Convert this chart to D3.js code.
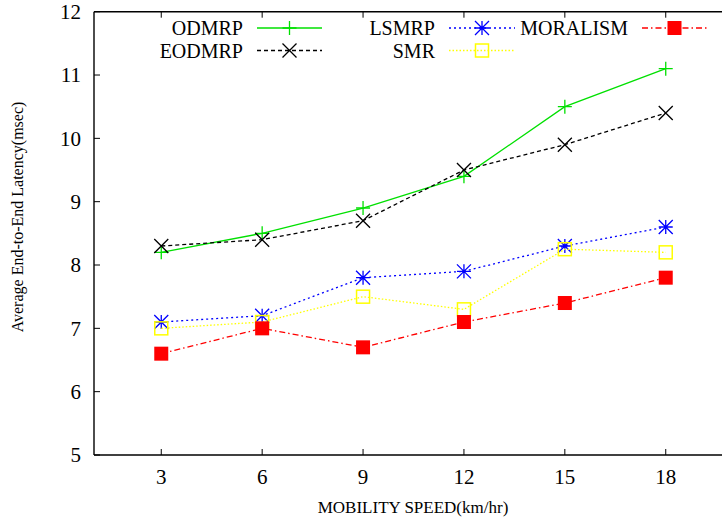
<!DOCTYPE html>
<html>
<head>
<meta charset="utf-8">
<script src="https://cdn.jsdelivr.net/npm/d3@7"></script>
<style>
  body { margin: 0; background: #fff; }
</style>
</head>
<body>
<div id="chart"></div>
<script>
var speeds = [3, 6, 9, 12, 15, 18];
var xTicks = [3, 6, 9, 12, 15, 18];
var yTicks = [5, 6, 7, 8, 9, 10, 11, 12];

var odmrp    = [8.2, 8.5, 8.9, 9.4, 10.5, 11.1];
var eodmrp   = [8.3, 8.4, 8.7, 9.5, 9.9, 10.4];
var lsmrp    = [7.1, 7.2, 7.8, 7.9, 8.3, 8.6];
var smr      = [7.0, 7.1, 7.5, 7.3, 8.25, 8.2];
var moralism = [6.6, 7.0, 6.7, 7.1, 7.4, 7.8];

var series = [
  {name: "ODMRP",    values: odmrp,    color: "#00e000", dash: null,        marker: "plus",  row: 0, col: 0},
  {name: "EODMRP",   values: eodmrp,   color: "#000000", dash: "4,3",       marker: "cross", row: 1, col: 0},
  {name: "LSMRP",    values: lsmrp,    color: "#0000ff", dash: "2,3",       marker: "star",  row: 0, col: 1},
  {name: "SMR",      values: smr,      color: "#ffff00", dash: "1.5,2",     marker: "box",   row: 1, col: 1},
  {name: "MORALISM", values: moralism, color: "#ff0000", dash: "6,3,1.5,3", marker: "fbox",  row: 0, col: 2}
];

var FONT = "'Liberation Serif', 'Times New Roman', Times, serif";
var W = 722, H = 521;
var svg = d3.select("#chart").append("svg")
  .attr("width", W).attr("height", H)
  .attr("font-family", FONT);

var x = d3.scaleLinear().domain([1, 20]).range([94, 733]);
var y = d3.scaleLinear().domain([5, 12]).range([455, 11.7]);

// frame
var ax = svg.append("g").attr("stroke", "#000").attr("stroke-width", 1.4).attr("fill", "none");
ax.append("line").attr("x1", x(1)).attr("x2", x(1)).attr("y1", y(5)).attr("y2", y(12));
ax.append("line").attr("x1", x(1)).attr("x2", x(20)).attr("y1", y(5)).attr("y2", y(5));
ax.append("line").attr("x1", x(1)).attr("x2", x(20)).attr("y1", y(12)).attr("y2", y(12));

// ticks, inward, mirrored on top
ax.selectAll(".yt").data(yTicks).enter().append("line")
  .attr("stroke-width", 1)
  .attr("x1", x(1)).attr("x2", x(1) + 6)
  .attr("y1", function (d) { return y(d); }).attr("y2", function (d) { return y(d); });
ax.selectAll(".xb").data(xTicks).enter().append("line")
  .attr("stroke-width", 1)
  .attr("x1", function (d) { return x(d); }).attr("x2", function (d) { return x(d); })
  .attr("y1", y(5)).attr("y2", y(5) - 6);
ax.selectAll(".xt").data(xTicks).enter().append("line")
  .attr("stroke-width", 1)
  .attr("x1", function (d) { return x(d); }).attr("x2", function (d) { return x(d); })
  .attr("y1", y(12)).attr("y2", y(12) + 6);

svg.selectAll(".ylab").data(yTicks).enter().append("text")
  .attr("x", 81).attr("y", function (d) { return y(d); })
  .attr("dy", "0.35em")
  .style("font-family", FONT)
  .style("text-anchor", "end").style("font-size", "21px")
  .text(function (d) { return d; });

svg.selectAll(".xlab").data(xTicks).enter().append("text")
  .attr("x", function (d) { return x(d); }).attr("y", 484)
  .style("font-family", FONT)
  .style("text-anchor", "middle").style("font-size", "21px")
  .text(function (d) { return d; });

svg.append("text")
  .attr("x", 413).attr("y", 513)
  .style("font-family", FONT)
  .style("text-anchor", "middle").style("font-size", "17px")
  .text("MOBILITY SPEED(km/hr)");

svg.append("text")
  .attr("transform", "translate(23,217) rotate(-90)")
  .style("font-family", FONT)
  .style("text-anchor", "middle").style("font-size", "16px")
  .text("Average End-to-End Latency(msec)");

function drawMarker(g, type, color, cx, cy) {
  var s = 7;
  if (type === "plus") {
    g.append("path").attr("d", "M" + (cx - s) + "," + cy + "H" + (cx + s) + "M" + cx + "," + (cy - s) + "V" + (cy + s))
      .attr("stroke", color).attr("stroke-width", 1.3).attr("fill", "none");
  } else if (type === "cross") {
    g.append("path").attr("d", "M" + (cx - s) + "," + (cy - s) + "L" + (cx + s) + "," + (cy + s) + "M" + (cx - s) + "," + (cy + s) + "L" + (cx + s) + "," + (cy - s))
      .attr("stroke", color).attr("stroke-width", 1.3).attr("fill", "none");
  } else if (type === "star") {
    g.append("path").attr("d", "M" + (cx - s) + "," + cy + "H" + (cx + s) + "M" + cx + "," + (cy - s) + "V" + (cy + s) +
        "M" + (cx - s) + "," + (cy - s) + "L" + (cx + s) + "," + (cy + s) + "M" + (cx - s) + "," + (cy + s) + "L" + (cx + s) + "," + (cy - s))
      .attr("stroke", color).attr("stroke-width", 1.3).attr("fill", "none");
  } else if (type === "box") {
    g.append("rect").attr("x", cx - 6.5).attr("y", cy - 6.5).attr("width", 13).attr("height", 13)
      .attr("stroke", color).attr("stroke-width", 1.5).attr("fill", "none");
  } else if (type === "fbox") {
    g.append("rect").attr("x", cx - 7).attr("y", cy - 7).attr("width", 14).attr("height", 14)
      .attr("fill", color);
  }
}

var line = d3.line()
  .x(function (d, i) { return x(speeds[i]); })
  .y(function (d) { return y(d); });

var plot = svg.append("g");
series.forEach(function (s) {
  var g = plot.append("g");
  g.append("path").datum(s.values)
    .attr("d", line)
    .attr("fill", "none")
    .attr("stroke", s.color)
    .attr("stroke-width", 1.3)
    .attr("stroke-dasharray", s.dash);
  s.values.forEach(function (v, i) {
    drawMarker(g, s.marker, s.color, x(speeds[i]), y(v));
  });
});

// legend (gnuplot style key)
var colText = [243, 435, 628];
var colSample = [[257, 322], [449, 515], [642, 707]];
var rowY = [28, 50.5];
var key = svg.append("g");
series.forEach(function (s) {
  var ty = rowY[s.row];
  key.append("text")
    .attr("x", colText[s.col]).attr("y", ty).attr("dy", "0.35em")
    .style("font-family", FONT)
    .style("text-anchor", "end").style("font-size", "20px")
    .text(s.name);
  var x0 = colSample[s.col][0], x1 = colSample[s.col][1];
  key.append("line")
    .attr("x1", x0).attr("x2", x1).attr("y1", ty).attr("y2", ty)
    .attr("stroke", s.color).attr("stroke-width", 1.3)
    .attr("stroke-dasharray", s.dash);
  drawMarker(key, s.marker, s.color, (x0 + x1) / 2, ty);
});
</script>
</body>
</html>
